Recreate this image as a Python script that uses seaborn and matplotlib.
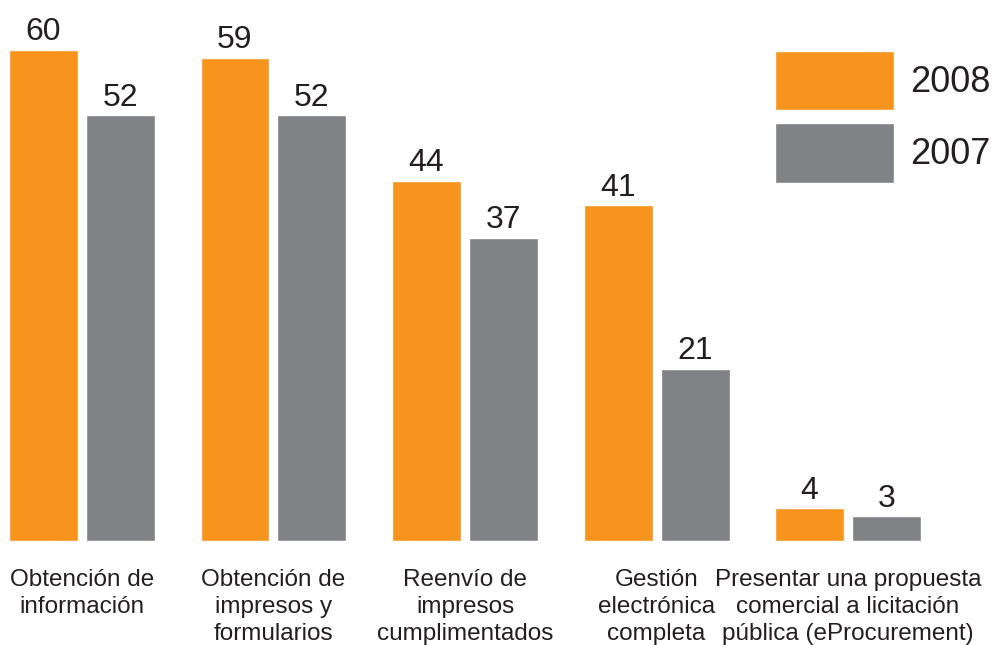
import pandas as pd
import matplotlib
matplotlib.use("Agg")
import matplotlib.pyplot as plt
import seaborn as sns

# -----------------------------
# Data
# -----------------------------
tareas = [
    "Obtención de\ninformación",
    "Obtención de\nimpresos y\nformularios",
    "Reenvío de\nimpresos\ncumplimentados",
    "Gestión\nelectrónica\ncompleta",
    "Presentar una propuesta\ncomercial a licitación\npública (eProcurement)",
]
valores_2008 = [60, 59, 44, 41, 4]
valores_2007 = [52, 52, 37, 21, 3]
anios = ["2008", "2007"]

ORANGE = "#F7941E"
GRAY = "#808285"
TEXT = "#231F20"

df = pd.DataFrame({
    "tarea": tareas * 2,
    "valor": valores_2008 + valores_2007,
    "anio": [anios[0]] * len(tareas) + [anios[1]] * len(tareas),
})

# -----------------------------
# Plot
# -----------------------------
sns.set_style("white")
plt.rcParams["font.family"] = ["Liberation Sans", "DejaVu Sans"]

fig = plt.figure(figsize=(9.94, 6.45), dpi=100)
ax = fig.add_axes([0, 0.1612, 1, 0.8388])

sns.barplot(data=df, x="tarea", y="valor", hue="anio", hue_order=anios,
            palette=[ORANGE, GRAY], width=0.804, gap=0.104,
            saturation=1, order=tareas, ax=ax)

for cont in ax.containers:
    ax.bar_label(cont, fmt="%d", padding=2, fontsize=23, color=TEXT)

ax.set_xlim(-0.428, 4.762)
ax.set_ylim(0, 66.1)
ax.set_xlabel("")
ax.set_ylabel("")
ax.set_yticks([])
ax.set_xticks(range(len(tareas)))
ax.set_xticklabels(tareas, linespacing=1.3, fontsize=17.5, color=TEXT)
sns.despine(ax=ax, left=True, bottom=True)
ax.tick_params(axis="x", length=0, pad=20)

handles, labels = ax.get_legend_handles_labels()
ax.legend(handles, labels, loc="upper left",
          bbox_to_anchor=(775 / 994, 1 - 51 / 645), bbox_transform=fig.transFigure,
          frameon=False, fontsize=26, handlelength=3.3, handleheight=2.15,
          labelspacing=0.36, handletextpad=0.45, borderpad=0, borderaxespad=0,
          labelcolor=TEXT)

plt.savefig("out.png", dpi=100)
plt.close()
print("Saved: out.png")
